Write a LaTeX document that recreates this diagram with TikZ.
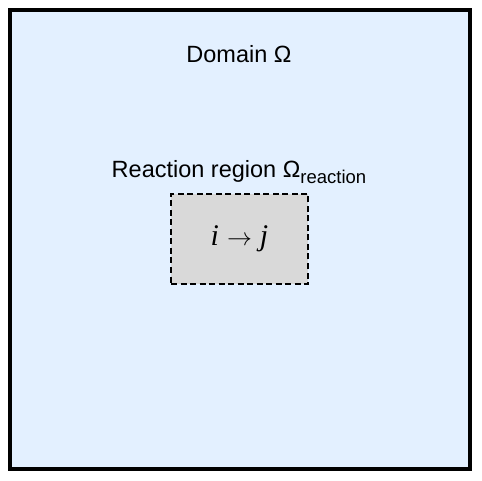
\documentclass[tikz,border=0pt]{standalone}
\usepackage{fontspec}
\setmainfont{Liberation Sans}
\newfontfamily\formulafont{Liberation Serif}
\usetikzlibrary{positioning}
\definecolor{domainblue}{RGB}{227,240,255}
\definecolor{regiongray}{RGB}{217,217,217}
\tikzset{
  labeltext/.style={font=\fontsize{23.5}{27}\selectfont, inner sep=0pt},
  regionbox/.style={draw, dash pattern=on 6pt off 3.5pt, line width=2pt, fill=regiongray,
    minimum width=137pt, minimum height=90pt, inner sep=0pt,
    font=\formulafont\fontsize{30}{34}\selectfont}
}
\begin{document}
\begin{tikzpicture}[x=1pt,y=-1pt]
\useasboundingbox (0,0) rectangle (482,481);
% Domain
\draw[line width=3.8pt, fill=domainblue] (10,10) rectangle (470,469);
\node[labeltext, anchor=base] (domain) at (239,62.5) {Domain Ω};

% Reaction region
\node[regionbox] (region) at (239.5,239)
  {\textit{i}\hspace{8pt}{\fontsize{23}{26}\selectfont$\rightarrow$}\hspace{8pt}\textit{j}};
\node[labeltext, anchor=base] (regionlabel) at (239,178)
  {Reaction region Ω\raisebox{-5.5pt}{\fontsize{18.5}{20}\selectfont reaction}};
\end{tikzpicture}
\end{document}
